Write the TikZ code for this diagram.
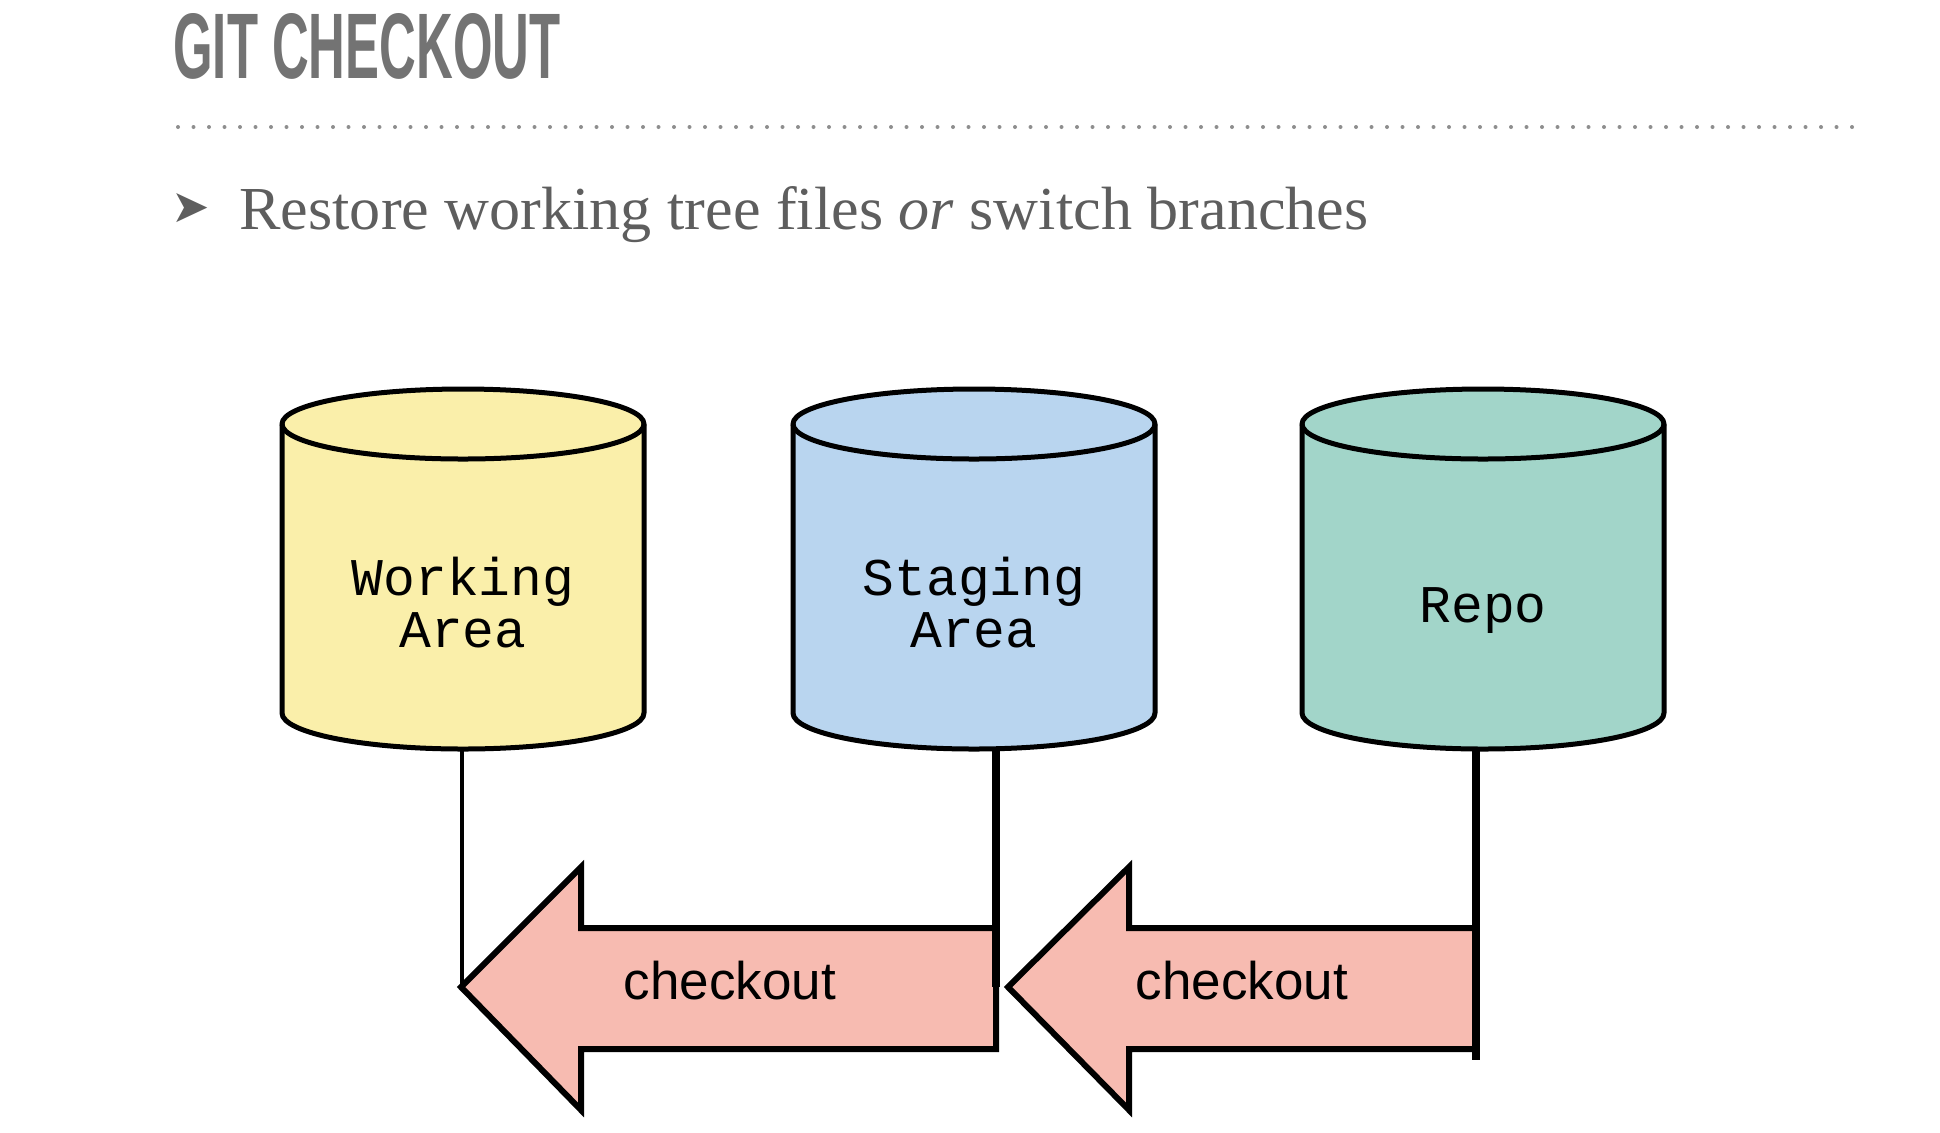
\documentclass[tikz,border=0pt]{standalone}
\usepackage{fontspec}
\setmainfont{Liberation Serif}
\setsansfont{Liberation Sans}
\setmonofont{Liberation Mono}
\newfontfamily\symfont{DejaVu Sans}
\usepackage{graphicx}
\definecolor{titlegray}{HTML}{737373}
\definecolor{dotgray}{HTML}{8E8E8E}
\definecolor{subgray}{HTML}{5E5E5E}
\definecolor{cylyellow}{HTML}{FAEFAA}
\definecolor{cylblue}{HTML}{B9D5EF}
\definecolor{cylgreen}{HTML}{A2D5C9}
\definecolor{arrowpink}{HTML}{F7BBB1}
\begin{document}
\begin{tikzpicture}[x=0.5pt,y=-0.5pt,
  cylbody/.style={line width=2.5pt, draw=black, line join=round},
  cyltext/.style={font=\ttfamily\fontsize{26.5pt}{26pt}\selectfont, align=center, anchor=base, inner sep=0pt},
  arrowshape/.style={line width=3pt, draw=black, fill=arrowpink, line join=miter},
  arrowtext/.style={font=\sffamily\fontsize{26.5pt}{30pt}\selectfont, anchor=base, inner sep=0pt},
  thinlink/.style={line width=2pt, draw=black},
  thicklink/.style={line width=4pt, draw=black}]
\fill[white] (0,0) rectangle (1940,1132);
\useasboundingbox (0,0) rectangle (1940,1132);

% title
\node[anchor=south west, inner sep=0pt, text=titlegray, font=\sffamily\bfseries] (title) at (173,80)
  {\resizebox{193.5pt}{32.5pt}{GIT CHECKOUT}};
% dotted rule
\coordinate (ruleA) at (178,127);
\coordinate (ruleB) at (1856,127);
\draw[dotgray, line width=2pt, line cap=round, dash pattern=on 0pt off 7.75pt] (ruleA) -- (ruleB);
% bullet and subtitle
\node[anchor=base west, inner sep=0pt, text=subgray, font=\symfont\fontsize{23pt}{24pt}\selectfont] (bullet) at (171,222) {➤};
\node[anchor=base west, inner sep=0pt, text=subgray] (subtitle) at (239,229)
  {\resizebox{564.5pt}{21.5pt}{Restore working tree files \textit{or} switch branches}};

% cylinders
\filldraw[cylbody, fill=cylyellow] (282,424) -- (282,713) arc[start angle=180,end angle=0,x radius=181,y radius=36]
  -- (644,424) arc[start angle=0,end angle=-180,x radius=181,y radius=35] -- cycle;
\draw[cylbody] (282,424) arc[start angle=180,end angle=0,x radius=181,y radius=35];
\filldraw[cylbody, fill=cylblue] (793,424) -- (793,713) arc[start angle=180,end angle=0,x radius=181,y radius=36]
  -- (1155,424) arc[start angle=0,end angle=-180,x radius=181,y radius=35] -- cycle;
\draw[cylbody] (793,424) arc[start angle=180,end angle=0,x radius=181,y radius=35];
\filldraw[cylbody, fill=cylgreen] (1302,424) -- (1302,713) arc[start angle=180,end angle=0,x radius=181,y radius=36]
  -- (1664,424) arc[start angle=0,end angle=-180,x radius=181,y radius=35] -- cycle;
\draw[cylbody] (1302,424) arc[start angle=180,end angle=0,x radius=181,y radius=35];

\node[cyltext] (working) at (463,647) {Working\\Area};
\node[cyltext] (staging) at (974,647) {Staging\\Area};
\node[cyltext] (repo) at (1483,622) {Repo};

\coordinate (wbot) at (462,749);
\coordinate (sbot) at (996,749);
\coordinate (rbot) at (1476,749);

% arrows
\coordinate (a1tip) at (461,987);
\coordinate (a1end) at (996,987);
\filldraw[arrowshape] (a1tip) -- (581,867) -- (581,928) -- (996,928) -- (996,1049) -- (581,1049) -- (581,1110) -- cycle;
\node[arrowtext] (co1) at (730,999) {checkout};
\coordinate (a2tip) at (1008,987);
\coordinate (rend) at (1476,1060);
\filldraw[arrowshape] (a2tip) -- (1129,867) -- (1129,928) -- (1476,928) -- (1476,1049) -- (1129,1049) -- (1129,1110) -- cycle;
\node[arrowtext] (co2) at (1242,999) {checkout};

% links
\draw[thinlink] (wbot) -- (wbot |- a1tip);
\draw[thicklink] (sbot) -- (a1end);
\draw[thicklink] (rbot) -- (rend);
\end{tikzpicture}
\end{document}
